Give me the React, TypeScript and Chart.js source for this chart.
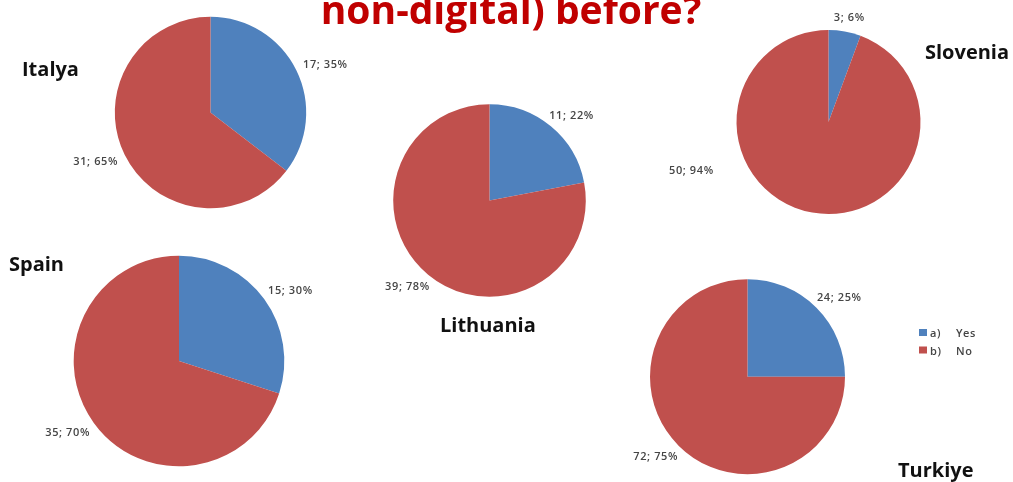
import React, { useEffect, useRef } from "react";
import { Chart, registerables } from "chart.js";

Chart.register(...registerables);

// ---- data ----
const titleText = "non-digital) before?";
const countries = ["Italya", "Lithuania", "Slovenia", "Spain", "Turkiye"];
const answers = ["a)\tYes", "b)\tNo"];
const yesCounts = [17, 11, 3, 15, 24];
const noCounts = [31, 39, 50, 35, 72];

// ---- styles / layout ----
const W = 1013;
const H = 482;
const sliceColors = ["#4F81BD", "#C0504D"];
const labelColor = "#454545";
const labelFont = "600 11px 'Open Sans'";
const pieLayout = [
  { cx: 210.5, cy: 112.5, r: 95.7, nameX: 22, nameY: 76 },
  { cx: 489.5, cy: 200.5, r: 96.3, nameX: 440, nameY: 332 },
  { cx: 828.5, cy: 122, r: 92, nameX: 925, nameY: 59 },
  { cx: 179, cy: 361, r: 105.3, nameX: 9, nameY: 271 },
  { cx: 747.5, cy: 376.7, r: 97.5, nameX: 898, nameY: 477 },
];
// label placement tweaks: chart index -> slice index -> {angleDeg (clockwise from 3 o'clock), gap}
const labelOverrides: Record<string, { angleDeg: number; gap: number }> = {
  "2-1": { angleDeg: 158.5, gap: 33 },
};
const labelGap = 10;
const legendPos = { x: 919, y: 329, row: 17.5, textX: 930, tabX: 956 };

function PieCanvas({ idx }: { idx: number }) {
  const ref = useRef<HTMLCanvasElement | null>(null);
  useEffect(() => {
    const canvas = ref.current!;
    const L = pieLayout[idx];
    const values = [yesCounts[idx], noCounts[idx]];
    const total = values[0] + values[1];

    const textPlugin = {
      id: "textPlugin" + idx,
      afterDatasetsDraw(chart: any) {
        const ctx = chart.ctx as CanvasRenderingContext2D;
        const meta = chart.getDatasetMeta(0);
        ctx.save();
        // data labels
        ctx.font = labelFont;
        (ctx as any).letterSpacing = "0.6px";
        ctx.fillStyle = labelColor;
        ctx.textAlign = "left";
        ctx.textBaseline = "alphabetic";
        meta.data.forEach((arc: any, i: number) => {
          const p = arc.getProps(["x", "y", "startAngle", "endAngle", "outerRadius"], true);
          let mid = (p.startAngle + p.endAngle) / 2;
          let gap = labelGap;
          const ov = labelOverrides[idx + "-" + i];
          if (ov) {
            mid = (ov.angleDeg * Math.PI) / 180;
            gap = ov.gap;
          }
          const c = Math.cos(mid);
          const s = Math.sin(mid);
          const px = p.x + c * (p.outerRadius + gap);
          const py = p.y + s * (p.outerRadius + gap);
          const pct = Math.round((values[i] / total) * 100);
          const txt = values[i] + "; " + pct + "%";
          const w = ctx.measureText(txt).width;
          const h = 10;
          const left = px - (w * (1 - c)) / 2;
          const centerY = py + (h / 2) * s;
          ctx.fillText(txt, left, centerY + 4);
        });
        // country name
        (ctx as any).letterSpacing = "0px";
        ctx.font = "bold 20px 'Open Sans'";
        ctx.fillStyle = "#111111";
        ctx.fillText(countries[idx], L.nameX, L.nameY);
        if (idx === 0) {
          ctx.font = "bold 39px 'Open Sans'";
          ctx.fillStyle = "#C00000";
          ctx.textAlign = "center";
          ctx.fillText(titleText, 511, 23.5);
          ctx.textAlign = "left";
        }
        if (idx === 4) {
          ctx.font = labelFont;
          (ctx as any).letterSpacing = "0.6px";
          answers.forEach((a, i) => {
            const y = legendPos.y + i * legendPos.row;
            ctx.fillStyle = sliceColors[i];
            ctx.fillRect(legendPos.x, y, 8, 7);
            ctx.fillStyle = labelColor;
            const [k, v] = a.split("\t");
            ctx.fillText(k, legendPos.textX, y + 8);
            ctx.fillText(v, legendPos.tabX, y + 8);
          });
        }
        ctx.restore();
      },
    };

    const chart = new Chart(canvas, {
      type: "pie",
      data: {
        labels: answers.map((a) => a.replace("\t", " ")),
        datasets: [
          {
            data: values,
            backgroundColor: sliceColors,
            borderWidth: 0,
          },
        ],
      },
      options: {
        responsive: false,
        animation: false,
        devicePixelRatio: 1,
        layout: {
          padding: {
            left: L.cx - L.r,
            right: W - L.cx - L.r,
            top: L.cy - L.r,
            bottom: H - L.cy - L.r,
          },
        },
        plugins: {
          legend: { display: false },
          tooltip: { enabled: false },
          title: { display: false },
        },
      },
      plugins: [textPlugin],
    });
    return () => chart.destroy();
  }, [idx]);
  return (
    <canvas
      ref={ref}
      width={W}
      height={H}
      style={{ position: "absolute", left: 0, top: 0, width: W, height: H }}
    />
  );
}

export default function App() {
  useEffect(() => {
    document.body.style.margin = "0";
  }, []);
  return (
    <div style={{ position: "relative", width: W, height: H, background: "#ffffff", overflow: "hidden" }}>
      {countries.map((_, i) => (
        <PieCanvas key={i} idx={i} />
      ))}
    </div>
  );
}
